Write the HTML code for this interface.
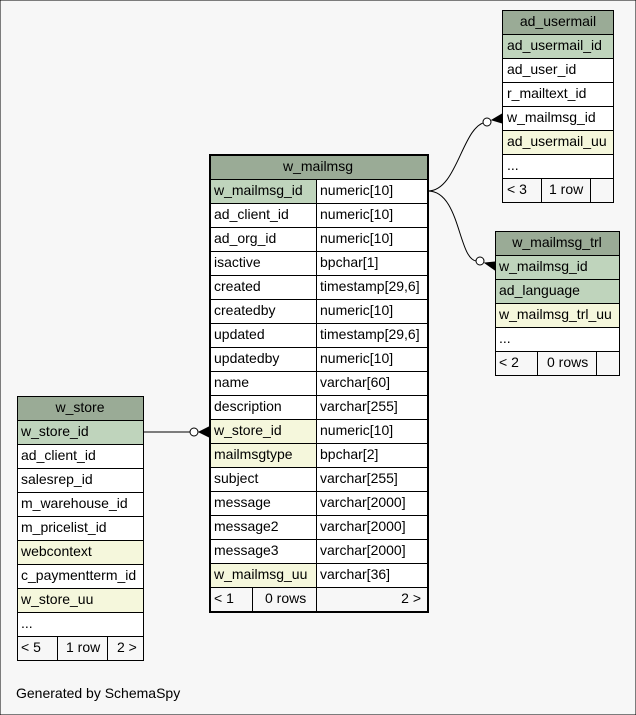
<!DOCTYPE html>
<html><head><meta charset="utf-8"><style>
html,body{margin:0;padding:0;background:#f7f7f7;}
svg{display:block;font-family:"Liberation Sans",Arial,sans-serif;font-size:14px;}
text{transform:translateY(-1px);}
.h{fill:#9aab96;}.p{fill:#bfd4bc;}.u{fill:#f5f7dc;}.w{fill:#ffffff;}.f{fill:#f7f7f7;}
rect{stroke:#000;stroke-width:1;}
</style></head><body>
<svg width="636" height="715" viewBox="0 0 636 715">
<rect x="0" y="0" width="636" height="715" fill="#f7f7f7" stroke="none"/>

<!-- edges -->
<path d="M428,191 C458,191 462,124 487,122" fill="none" stroke="#000"/>
<circle cx="487" cy="122" r="4" fill="#fff" stroke="#000"/>
<path d="M502,114 L492,120 L502,123 Z" fill="#000" stroke="#000"/>
<path d="M428,191 C460,191 458,258 476,261" fill="none" stroke="#000"/>
<circle cx="480" cy="261" r="4" fill="#fff" stroke="#000"/>
<path d="M495,262 L485,263 L495,270 Z" fill="#000" stroke="#000"/>
<path d="M143,432 L190,432" fill="none" stroke="#333" stroke-width="1.2"/>
<circle cx="194" cy="432" r="4" fill="#fff" stroke="#000"/>
<path d="M209,427 L199,432 L209,437 Z" fill="#000" stroke="#000"/>

<!-- ad_usermail -->
<g>
<rect class="h" x="502.5" y="10.5" width="111" height="24"/>
<text x="558" y="27" text-anchor="middle">ad_usermail</text>
<rect class="p" x="502.5" y="34.5" width="111" height="24"/><text x="507" y="51">ad_usermail_id</text>
<rect class="w" x="502.5" y="58.5" width="111" height="24"/><text x="507" y="75">ad_user_id</text>
<rect class="w" x="502.5" y="82.5" width="111" height="24"/><text x="507" y="99">r_mailtext_id</text>
<rect class="w" x="502.5" y="106.5" width="111" height="24"/><text x="507" y="123">w_mailmsg_id</text>
<rect class="u" x="502.5" y="130.5" width="111" height="24"/><text x="507" y="147">ad_usermail_uu</text>
<rect class="w" x="502.5" y="154.5" width="111" height="24"/><text x="507" y="171">...</text>
<rect class="f" x="502.5" y="178.5" width="39" height="24"/><text x="507" y="195">&lt; 3</text>
<rect class="f" x="541.5" y="178.5" width="49" height="24"/><text x="549" y="195">1 row</text>
<rect class="f" x="590.5" y="178.5" width="23" height="24"/>
</g>

<!-- w_mailmsg_trl -->
<g>
<rect class="h" x="495.5" y="231.5" width="124" height="24"/>
<text x="557" y="248" text-anchor="middle">w_mailmsg_trl</text>
<rect class="p" x="495.5" y="255.5" width="124" height="24"/><text x="499" y="272">w_mailmsg_id</text>
<rect class="p" x="495.5" y="279.5" width="124" height="24"/><text x="499" y="296">ad_language</text>
<rect class="u" x="495.5" y="303.5" width="124" height="24"/><text x="499" y="320">w_mailmsg_trl_uu</text>
<rect class="w" x="495.5" y="327.5" width="124" height="24"/><text x="499" y="344">...</text>
<rect class="f" x="495.5" y="351.5" width="42" height="24"/><text x="499" y="368">&lt; 2</text>
<rect class="f" x="537.5" y="351.5" width="59" height="24"/><text x="547" y="368">0 rows</text>
<rect class="f" x="596.5" y="351.5" width="23" height="24"/>
</g>

<!-- w_store -->
<g>
<rect class="h" x="17.5" y="396.5" width="126" height="24"/>
<text x="80" y="413" text-anchor="middle">w_store</text>
<rect class="p" x="17.5" y="420.5" width="126" height="24"/><text x="21" y="437">w_store_id</text>
<rect class="w" x="17.5" y="444.5" width="126" height="24"/><text x="21" y="461">ad_client_id</text>
<rect class="w" x="17.5" y="468.5" width="126" height="24"/><text x="21" y="485">salesrep_id</text>
<rect class="w" x="17.5" y="492.5" width="126" height="24"/><text x="21" y="509">m_warehouse_id</text>
<rect class="w" x="17.5" y="516.5" width="126" height="24"/><text x="21" y="533">m_pricelist_id</text>
<rect class="u" x="17.5" y="540.5" width="126" height="24"/><text x="21" y="557">webcontext</text>
<rect class="w" x="17.5" y="564.5" width="126" height="24"/><text x="21" y="581">c_paymentterm_id</text>
<rect class="u" x="17.5" y="588.5" width="126" height="24"/><text x="21" y="605">w_store_uu</text>
<rect class="w" x="17.5" y="612.5" width="126" height="24"/><text x="21" y="629">...</text>
<rect class="f" x="17.5" y="636.5" width="40" height="24"/><text x="21" y="653">&lt; 5</text>
<rect class="f" x="57.5" y="636.5" width="50" height="24"/><text x="66" y="653">1 row</text>
<rect class="f" x="107.5" y="636.5" width="36" height="24"/><text x="117" y="653">2 &gt;</text>
</g>

<!-- w_mailmsg -->
<g>
<rect class="h" x="210.5" y="155.5" width="217" height="24"/>
<text x="318" y="172" text-anchor="middle">w_mailmsg</text>
<rect class="p" x="210.5" y="179.5" width="106" height="24"/><rect class="w" x="316.5" y="179.5" width="111" height="24"/>
<text x="214" y="196">w_mailmsg_id</text><text x="320" y="196">numeric[10]</text>
<rect class="w" x="210.5" y="203.5" width="106" height="24"/><rect class="w" x="316.5" y="203.5" width="111" height="24"/>
<text x="214" y="220">ad_client_id</text><text x="320" y="220">numeric[10]</text>
<rect class="w" x="210.5" y="227.5" width="106" height="24"/><rect class="w" x="316.5" y="227.5" width="111" height="24"/>
<text x="214" y="244">ad_org_id</text><text x="320" y="244">numeric[10]</text>
<rect class="w" x="210.5" y="251.5" width="106" height="24"/><rect class="w" x="316.5" y="251.5" width="111" height="24"/>
<text x="214" y="268">isactive</text><text x="320" y="268">bpchar[1]</text>
<rect class="w" x="210.5" y="275.5" width="106" height="24"/><rect class="w" x="316.5" y="275.5" width="111" height="24"/>
<text x="214" y="292">created</text><text x="320" y="292">timestamp[29,6]</text>
<rect class="w" x="210.5" y="299.5" width="106" height="24"/><rect class="w" x="316.5" y="299.5" width="111" height="24"/>
<text x="214" y="316">createdby</text><text x="320" y="316">numeric[10]</text>
<rect class="w" x="210.5" y="323.5" width="106" height="24"/><rect class="w" x="316.5" y="323.5" width="111" height="24"/>
<text x="214" y="340">updated</text><text x="320" y="340">timestamp[29,6]</text>
<rect class="w" x="210.5" y="347.5" width="106" height="24"/><rect class="w" x="316.5" y="347.5" width="111" height="24"/>
<text x="214" y="364">updatedby</text><text x="320" y="364">numeric[10]</text>
<rect class="w" x="210.5" y="371.5" width="106" height="24"/><rect class="w" x="316.5" y="371.5" width="111" height="24"/>
<text x="214" y="388">name</text><text x="320" y="388">varchar[60]</text>
<rect class="w" x="210.5" y="395.5" width="106" height="24"/><rect class="w" x="316.5" y="395.5" width="111" height="24"/>
<text x="214" y="412">description</text><text x="320" y="412">varchar[255]</text>
<rect class="u" x="210.5" y="419.5" width="106" height="24"/><rect class="w" x="316.5" y="419.5" width="111" height="24"/>
<text x="214" y="436">w_store_id</text><text x="320" y="436">numeric[10]</text>
<rect class="u" x="210.5" y="443.5" width="106" height="24"/><rect class="w" x="316.5" y="443.5" width="111" height="24"/>
<text x="214" y="460">mailmsgtype</text><text x="320" y="460">bpchar[2]</text>
<rect class="w" x="210.5" y="467.5" width="106" height="24"/><rect class="w" x="316.5" y="467.5" width="111" height="24"/>
<text x="214" y="484">subject</text><text x="320" y="484">varchar[255]</text>
<rect class="w" x="210.5" y="491.5" width="106" height="24"/><rect class="w" x="316.5" y="491.5" width="111" height="24"/>
<text x="214" y="508">message</text><text x="320" y="508">varchar[2000]</text>
<rect class="w" x="210.5" y="515.5" width="106" height="24"/><rect class="w" x="316.5" y="515.5" width="111" height="24"/>
<text x="214" y="532">message2</text><text x="320" y="532">varchar[2000]</text>
<rect class="w" x="210.5" y="539.5" width="106" height="24"/><rect class="w" x="316.5" y="539.5" width="111" height="24"/>
<text x="214" y="556">message3</text><text x="320" y="556">varchar[2000]</text>
<rect class="u" x="210.5" y="563.5" width="106" height="24"/><rect class="w" x="316.5" y="563.5" width="111" height="24"/>
<text x="214" y="580">w_mailmsg_uu</text><text x="320" y="580">varchar[36]</text>
<rect class="f" x="210.5" y="587.5" width="42" height="24"/><rect class="f" x="252.5" y="587.5" width="64" height="24"/><rect class="f" x="316.5" y="587.5" width="111" height="24"/>
<text x="214" y="604">&lt; 1</text><text x="265" y="604">0 rows</text><text x="421" y="604" text-anchor="end">2 &gt;</text>
<rect x="209.5" y="154.5" width="219" height="458" fill="none" stroke="#000" stroke-width="3"/>
</g>

<text x="16" y="699">Generated by SchemaSpy</text>
</svg>
</body></html>
